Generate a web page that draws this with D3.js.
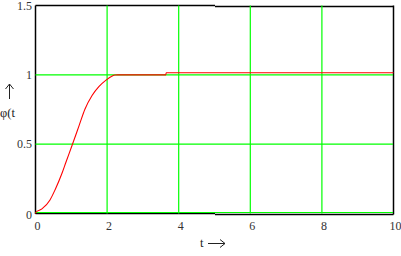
<!DOCTYPE html>
<html><head><meta charset="utf-8">
<script src="https://cdn.jsdelivr.net/npm/d3@7"></script>
<style>body{margin:0;background:#fff}svg{display:block}</style>
</head><body>
<svg id="c" width="401" height="256"></svg>
<script>
const tValues = [0, 0.01, 0.18, 0.405, 0.545, 0.74, 0.85, 1.02, 1.215, 1.38, 1.58, 1.77, 1.97, 2.13, 2.22, 2.3, 3.64, 3.65, 10];
const phiValues = [0, 0.009, 0.033, 0.098, 0.17, 0.29, 0.37, 0.49, 0.632, 0.752, 0.851, 0.915, 0.962, 0.99, 0.999, 1.0, 1.0, 1.015, 1.015];
const xTicks = [0, 2, 4, 6, 8, 10];
const yTicks = [0, 0.5, 1, 1.5];
const xGrid = [2, 4, 6, 8];
const yGrid = [0, 0.5, 1];

const svg = d3.select("#c");
const x = d3.scaleLinear().domain([0, 10]).range([35.5, 393.5]);
const y = d3.scaleLinear().domain([0, 1.5]).range([213.5, 5.5]);
const data = tValues.map((t, i) => [t, phiValues[i]]);

// frame (black)
const fr = svg.append("g").attr("stroke", "#000").attr("stroke-width", 1.5).attr("fill", "none");
fr.append("line").attr("x1", x(0)).attr("x2", x(0)).attr("y1", y(1.5)).attr("y2", y(0) + 0.5);
fr.append("line").attr("x1", x(0)).attr("x2", 215).attr("y1", y(1.5)).attr("y2", y(1.5));
fr.append("line").attr("x1", 215).attr("x2", x(10)).attr("y1", y(1.5) + 1).attr("y2", y(1.5) + 1);
fr.append("line").attr("x1", x(10)).attr("x2", x(10)).attr("y1", y(1.5)).attr("y2", y(0) + 1);
fr.append("line").attr("x1", x(0)).attr("x2", 215).attr("y1", y(0)).attr("y2", y(0));
fr.append("line").attr("x1", 215).attr("x2", x(10)).attr("y1", y(0) + 1).attr("y2", y(0) + 1);

// grid (green)
const g = svg.append("g").attr("stroke", "#00ff00").attr("stroke-width", 1.2);
g.selectAll(".vx").data(xGrid).join("line")
  .attr("x1", d => x(d)).attr("x2", d => x(d)).attr("y1", y(1.5)).attr("y2", y(0));
g.selectAll(".hy").data(yGrid).join("line")
  .attr("x1", x(0)).attr("x2", x(10) - 0.5).attr("y1", d => y(d) - (d === 0 ? 1 : 0)).attr("y2", d => y(d) - (d === 0 ? 1 : 0));

// curve (red)
svg.append("path").datum(data)
  .attr("fill", "none").attr("stroke", "#ff0000").attr("stroke-width", 1.1)
  .attr("d", d3.line().x(d => x(d[0])).y(d => y(d[1])).curve(d3.curveMonotoneX));

// tick labels
const tf = "'Liberation Serif', 'Times New Roman', serif";
svg.selectAll(".xt").data(xTicks).join("text")
  .attr("x", d => x(d) + 2).attr("y", 230).attr("text-anchor", "middle")
  .style("font-family", tf).style("font-size", "12px").attr("fill", "#333").text(d => d);
svg.selectAll(".yt").data(yTicks).join("text")
  .attr("x", 32).attr("y", d => y(d) + 4 + (d === 0 ? 1 : 0)).attr("text-anchor", "end")
  .style("font-family", tf).style("font-size", "12px").attr("fill", "#333").text(d => d);

// axis titles
svg.append("text").attr("x", 0).attr("y", 117)
  .style("font-family", tf).style("font-size", "12.5px").attr("fill", "#222").text("φ(t");
svg.append("text").attr("x", 200).attr("y", 247)
  .style("font-family", tf).style("font-size", "12.5px").attr("fill", "#222").text("t");

// arrows
const ar = svg.append("g").attr("stroke", "#222").attr("stroke-width", 1).attr("fill", "none");
ar.append("path").attr("d", "M9.5,99 V84 M5.5,89 L9.5,84 L13.5,89");
ar.append("path").attr("d", "M208,243.5 H225 M220,239.5 L225,243.5 L220,247.5");
</script>
</body></html>
